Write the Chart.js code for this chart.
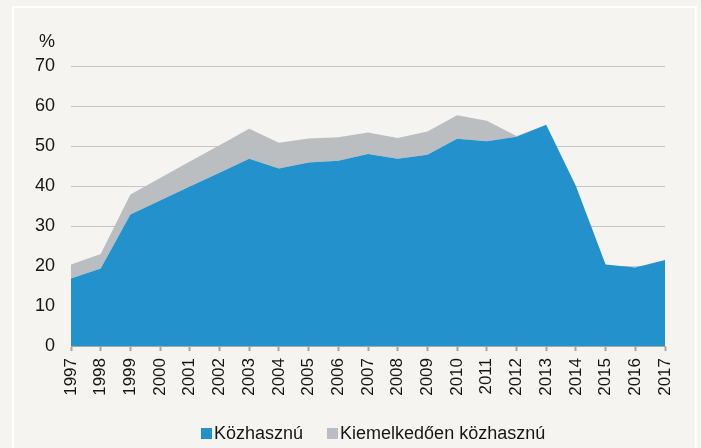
<!DOCTYPE html>
<html>
<head>
<meta charset="utf-8">
<script src="https://cdn.jsdelivr.net/npm/chart.js@4.4.1/dist/chart.umd.min.js"></script>
<style>
  html, body { margin: 0; padding: 0; background: #f5f4f1; width: 701px; height: 448px; overflow: hidden; }
  #frame { position: absolute; left: 12px; top: 6px; width: 685px; height: 470px; box-sizing: border-box; border: 2px solid #fff; }
  #chart { position: absolute; left: 0; top: 0; }
  #legend { position: absolute; left: 201px; top: 423px; display: flex; align-items: center;
            font-family: 'Liberation Sans', Arial, sans-serif; font-size: 18px; color: #161616; }
  #legend .item { display: flex; align-items: center; margin-right: 24px; }
  #legend .box { width: 11px; height: 11px; margin-right: 2px; }
</style>
</head>
<body>
<div id="frame"></div>
<canvas id="chart" width="701" height="448"></canvas>
<div id="legend"></div>
<script>
// years on the x axis
var years = ['1997','1998','1999','2000','2001','2002','2003','2004','2005','2006','2007',
             '2008','2009','2010','2011','2012','2013','2014','2015','2016','2017'];

// Közhasznú (blue, bottom layer), %
var kozhasznu = [16.9, 19.4, 32.9, 36.4, 39.9, 43.3, 46.8, 44.4, 45.9, 46.3, 48.0,
                 46.8, 47.8, 51.8, 51.2, 52.3, 55.3, 40.0, 20.4, 19.6, 21.5];

// Kiemelkedően közhasznú (grey, stacked on top), %
var kiemelkedo = [3.5, 3.6, 5.0, 5.6, 6.2, 6.9, 7.5, 6.4, 6.0, 5.9, 5.4,
                  5.2, 5.8, 5.9, 5.1, 0.2, 0, 0, 0, 0, 0];

var seriesNames = ['Közhasznú', 'Kiemelkedően közhasznú'];
var seriesColors = ['#2391cc', '#bbbec1'];

var FONT = "'Liberation Sans', Arial, sans-serif";

// "%" unit label above the y axis
var unitLabel = {
  id: 'unitLabel',
  afterDraw: function(chart) {
    var y = chart.scales.y;
    var ctx = chart.ctx;
    ctx.save();
    ctx.font = '18px ' + FONT;
    ctx.fillStyle = '#161616';
    ctx.textAlign = 'right';
    ctx.textBaseline = 'alphabetic';
    ctx.fillText('%', y.right - 16, y.top - 19);
    ctx.restore();
  }
};

var ctx = document.getElementById('chart').getContext('2d');
var myChart = new Chart(ctx, {
  type: 'line',
  data: {
    labels: years,
    datasets: [
      { label: seriesNames[0], data: kozhasznu, backgroundColor: seriesColors[0], borderColor: seriesColors[0],
        borderWidth: 0, pointRadius: 0, tension: 0, fill: 'origin' },
      { label: seriesNames[1], data: kiemelkedo, backgroundColor: seriesColors[1], borderColor: seriesColors[1],
        borderWidth: 0, pointRadius: 0, tension: 0, fill: '-1' }
    ]
  },
  options: {
    responsive: false,
    animation: false,
    layout: { padding: { left: 0, right: 36, top: 66, bottom: 40 } },
    scales: {
      x: {
        grid: { drawOnChartArea: false, drawTicks: true, tickLength: 5, tickWidth: 2, tickColor: '#a6a6a6' },
        border: { display: true, color: '#a6a6a6', width: 1 },
        ticks: { minRotation: 90, maxRotation: 90, autoSkip: false, padding: 7,
                 color: '#161616', font: { family: FONT, size: 17 } },
        afterFit: function(scale) { scale.height = 62; }
      },
      y: {
        stacked: true,
        min: 0, max: 70,
        grid: { color: '#c6c6c8', lineWidth: 1, drawTicks: false },
        border: { display: false },
        ticks: { stepSize: 10, padding: 16, color: '#161616', font: { family: FONT, size: 18 } },
        afterFit: function(scale) { scale.width = 71; }
      }
    },
    plugins: {
      legend: { display: false },
      tooltip: { enabled: false }
    }
  },
  plugins: [unitLabel]
});

// simple HTML legend below the chart
var legendEl = document.getElementById('legend');
seriesNames.forEach(function(name, i) {
  var item = document.createElement('div');
  item.className = 'item';
  var box = document.createElement('span');
  box.className = 'box';
  box.style.background = seriesColors[i];
  var txt = document.createElement('span');
  txt.textContent = name;
  item.appendChild(box);
  item.appendChild(txt);
  legendEl.appendChild(item);
});
</script>
</body>
</html>
